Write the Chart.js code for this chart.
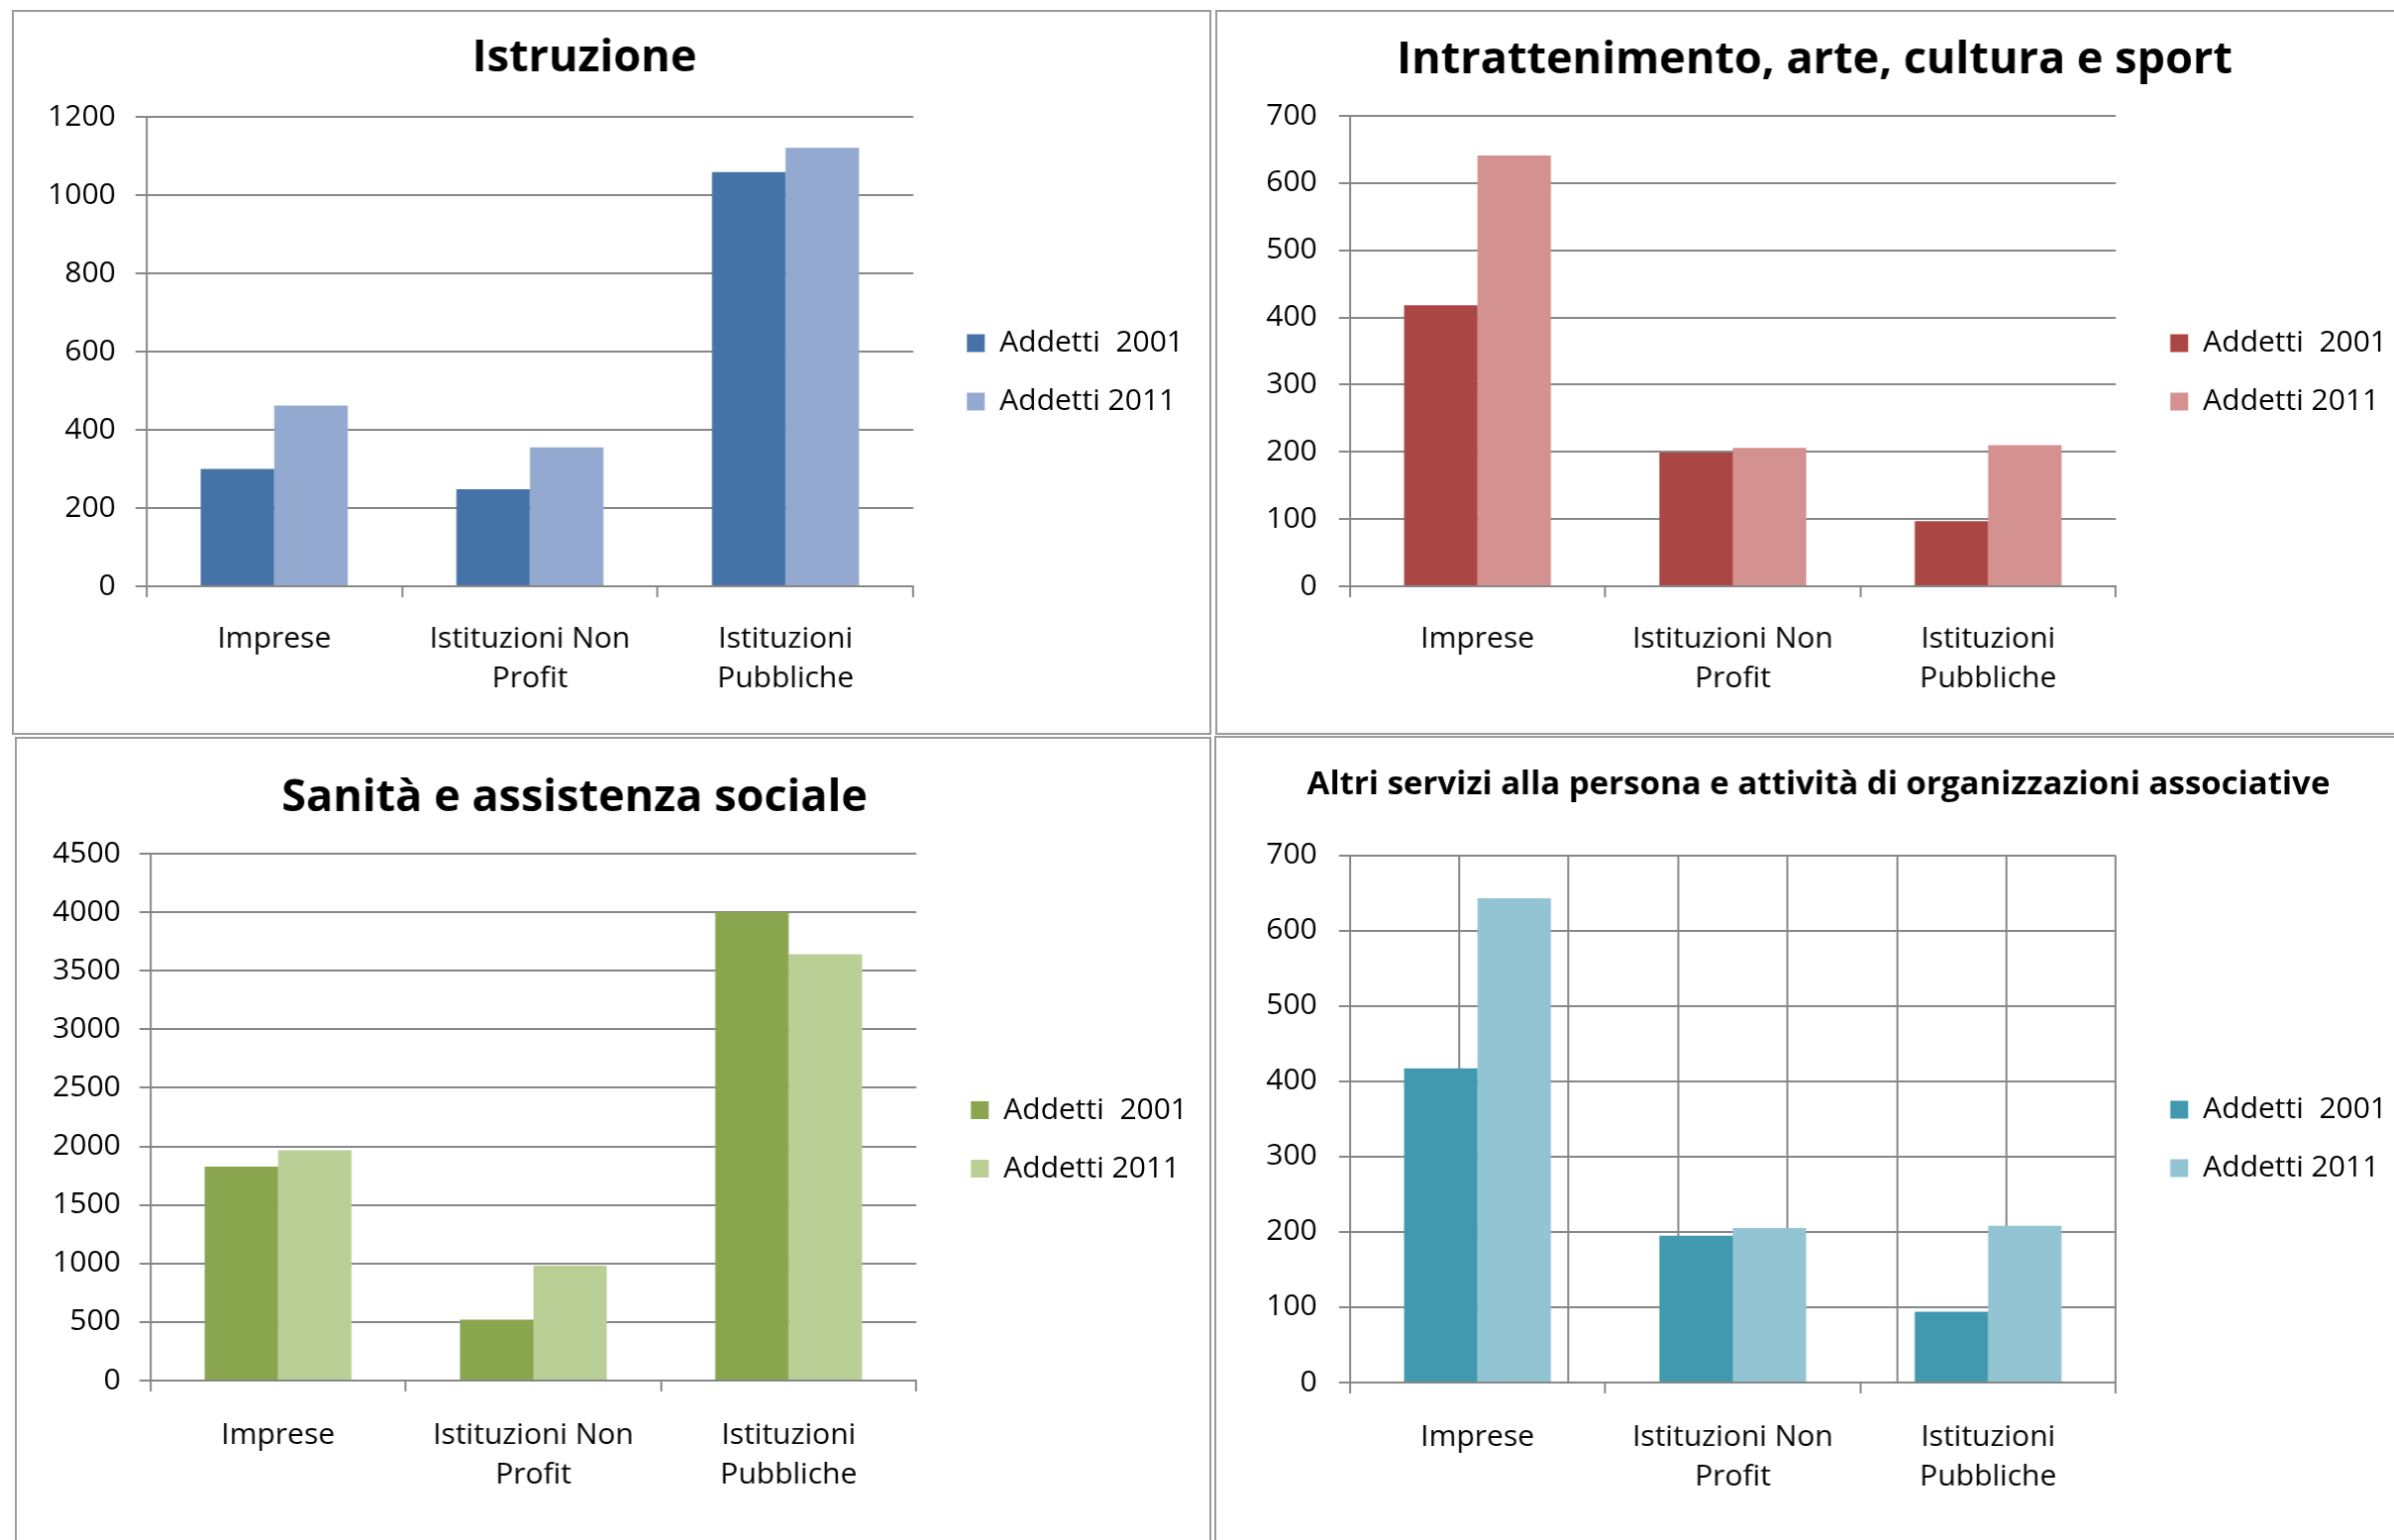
<!DOCTYPE html>
<html>
<head>
<meta charset="utf-8">
<script src="https://cdn.jsdelivr.net/npm/chart.js@4.4.1/dist/chart.umd.min.js"></script>
<style>
  html, body { margin: 0; padding: 0; background: #fff; }
  body { width: 2417px; height: 1555px; position: relative; overflow: hidden; }
  .panel { position: absolute; box-sizing: border-box; border: 2px solid #9b9b9b; }
  canvas { position: absolute; }
</style>
</head>
<body>
<div class="panel" style="left:12px;top:10px;width:1211px;height:732px"></div>
<div class="panel" style="left:1227px;top:10px;width:1200px;height:732px"></div>
<div class="panel" style="left:15px;top:744px;width:1208px;height:900px"></div>
<div class="panel" style="left:1226px;top:743px;width:1200px;height:900px"></div>

<canvas id="c1" width="1200" height="728"></canvas>
<canvas id="c2" width="1200" height="728"></canvas>
<canvas id="c3" width="1200" height="809"></canvas>
<canvas id="c4" width="1200" height="810"></canvas>

<script>
const categories = ["Imprese", ["Istituzioni Non", "Profit"], ["Istituzioni", "Pubbliche"]];
const seriesNames = ["Addetti  2001", "Addetti 2011"];

const istruzione2001 = [300, 248, 1059];
const istruzione2011 = [462, 355, 1121];
const intrattenimento2001 = [418, 199, 97];
const intrattenimento2011 = [641, 206, 210];
const sanita2001 = [1828, 520, 4000];
const sanita2011 = [1966, 981, 3642];
const altri2001 = [417, 195, 94];
const altri2011 = [643, 205, 208];

const ticksIstruzione = [0, 200, 400, 600, 800, 1000, 1200];
const ticksIntrattenimento = [0, 100, 200, 300, 400, 500, 600, 700];
const ticksSanita = [0, 500, 1000, 1500, 2000, 2500, 3000, 3500, 4000, 4500];
const ticksAltri = [0, 100, 200, 300, 400, 500, 600, 700];

const FONT = "'Open Sans', 'DejaVu Sans', sans-serif";
const GRID = "#878787";
const LEGEND_PAD = 29;

function buildConfig(c) {
  const scales = {
    x: {
      offset: true,
      grid: { drawOnChartArea: false, drawTicks: true, tickLength: 11, color: GRID, lineWidth: 2 },
      border: { display: true, color: GRID, width: 2 },
      ticks: { color: "#000", font: { family: FONT, size: 30, lineHeight: 1.33 }, padding: c.xPad, maxRotation: 0, autoSkip: false },
      afterFit: s => { s.height = c.xHeight; }
    },
    y: {
      min: 0,
      max: c.ticks[c.ticks.length - 1],
      afterBuildTicks: s => { s.ticks = c.ticks.map(v => ({ value: v })); },
      grid: { color: GRID, lineWidth: 2, tickLength: 11 },
      border: { display: true, color: GRID, width: 2 },
      ticks: { color: "#000", font: { family: FONT, size: 30 }, padding: c.yPad, callback: v => String(v) },
      afterFit: s => { s.width = c.yWidth; }
    },
    yGap: {
      type: "linear",
      position: "right",
      ticks: { display: false },
      grid: { display: false },
      border: { display: false },
      afterFit: s => { s.width = c.gap; }
    }
  };
  if (c.vgrid) {
    // vertical lines at category edges and centres
    const n = categories.length;
    const lines = [];
    for (let i = 0; i <= n * 2; i++) lines.push(i / 2);
    scales.x2 = {
      type: "linear",
      position: "top",
      min: 0,
      max: n,
      afterBuildTicks: s => { s.ticks = lines.map(v => ({ value: v })); },
      ticks: { display: false },
      grid: { color: GRID, lineWidth: 2, drawTicks: false },
      border: { display: false },
      afterFit: s => { s.height = 0; }
    };
  }

  return {
    type: "bar",
    data: {
      labels: categories,
      datasets: [
        { label: seriesNames[0], data: c.a, backgroundColor: c.colors[0], borderWidth: 0 },
        { label: seriesNames[1], data: c.b, backgroundColor: c.colors[1], borderWidth: 0 }
      ]
    },
    options: {
      responsive: false,
      maintainAspectRatio: false,
      animation: false,
      devicePixelRatio: 1,
      categoryPercentage: 0.575,
      barPercentage: 1,
      layout: { padding: 0 },
      plugins: {
        tooltip: { enabled: false },
        title: {
          display: true,
          text: c.title,
          color: "#000",
          font: { family: FONT, size: c.titleSize, weight: "bold", lineHeight: 1.2 },
          padding: { top: c.titleTop, bottom: c.titleBottom }
        },
        legend: {
          position: "right",
          align: "center",
          maxWidth: 1000,
          labels: { boxWidth: 18, boxHeight: 18, padding: LEGEND_PAD, color: "#000", font: { family: FONT, size: 30 } }
        }
      },
      scales: scales
    }
  };
}

function makeChart(id, c) {
  const canvas = document.getElementById(id);
  c.yWidth = 120;
  c.gap = 20;
  // first pass only to read the legend width
  const probe = new Chart(canvas, buildConfig(c));
  const lw = probe.legend.width;
  probe.destroy();

  const right = c.boxX - LEGEND_PAD + lw;
  const left = 2 * c.titleX - right;
  c.yWidth = c.plotLeft - left;
  c.gap = right - lw - c.plotRight;
  canvas.width = right - left;
  canvas.height = c.h;
  canvas.style.left = left + "px";
  canvas.style.top = c.top + "px";
  canvas.style.width = (right - left) + "px";
  canvas.style.height = c.h + "px";
  new Chart(canvas, buildConfig(c));
}

makeChart("c1", {
  title: "Istruzione", titleSize: 45, titleTop: 20, titleBottom: 32,
  a: istruzione2001, b: istruzione2011, ticks: ticksIstruzione,
  colors: ["#4572A7", "#93A9CF"],
  top: 12, h: 728, plotLeft: 148, plotRight: 922, boxX: 976, titleX: 590,
  xHeight: 148, xPad: 23, yPad: 20
});

makeChart("c2", {
  title: "Intrattenimento, arte, cultura e sport", titleSize: 45, titleTop: 22, titleBottom: 29,
  a: intrattenimento2001, b: intrattenimento2011, ticks: ticksIntrattenimento,
  colors: ["#AA4643", "#D39190"],
  top: 12, h: 728, plotLeft: 1363, plotRight: 2136, boxX: 2191, titleX: 1832,
  xHeight: 148, xPad: 23, yPad: 22
});

makeChart("c3", {
  title: "Sanità e assistenza sociale", titleSize: 45, titleTop: 33, titleBottom: 29,
  a: sanita2001, b: sanita2011, ticks: ticksSanita,
  colors: ["#89A54E", "#B9CF96"],
  top: 746, h: 809, plotLeft: 152, plotRight: 925, boxX: 980, titleX: 580,
  xHeight: 161, xPad: 25, yPad: 19
});

makeChart("c4", {
  title: "Altri servizi alla persona e attività di organizzazioni associative", titleSize: 33, titleTop: 28, titleBottom: 51,
  a: altri2001, b: altri2011, ticks: ticksAltri,
  colors: ["#4198AF", "#93C4D4"],
  top: 745, h: 810, plotLeft: 1363, plotRight: 2136, boxX: 2191, titleX: 1836,
  xHeight: 159, xPad: 25, yPad: 22, vgrid: true
});
</script>
</body>
</html>
